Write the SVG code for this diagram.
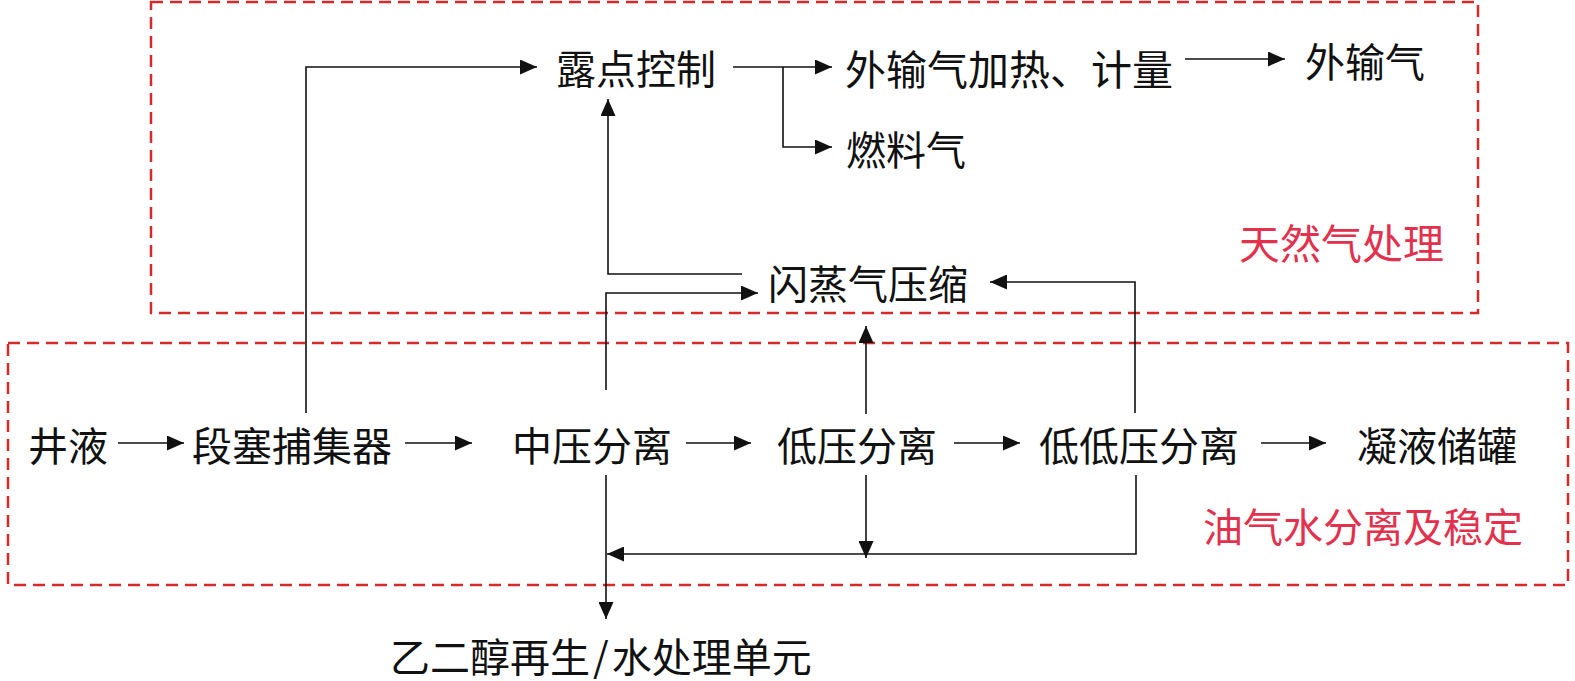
<svg xmlns="http://www.w3.org/2000/svg" width="1575" height="681" viewBox="0 0 1575 681">
<style>
  .t { font-family: "Noto Sans CJK SC", "Liberation Serif", sans-serif; font-size: 40px; fill: #111; dominant-baseline: central; }
  .r { fill: #e3314d; }
  .zone { fill: none; stroke: #d42a2a; stroke-width: 2.5; stroke-dasharray: 12 7; }
  .c { fill: none; stroke: #111; stroke-width: 1.6; marker-end: url(#ah); }
</style>
<defs>
  <marker id="ah" markerUnits="userSpaceOnUse" markerWidth="17" markerHeight="15" refX="17" refY="7.5" orient="auto">
    <path d="M0,0 L17,7.5 L0,15 z" fill="#111"/>
  </marker>
</defs>
<rect width="1575" height="681" fill="#fff"/>
<g id="zones">
  <rect class="zone" x="151" y="2" width="1327" height="311"/>
  <rect class="zone" x="8" y="343" width="1560" height="242"/>
</g>
<g id="connectors">
  <line class="c" x1="118" y1="443" x2="184" y2="443"/>
  <line class="c" x1="405" y1="443" x2="472" y2="443"/>
  <line class="c" x1="686" y1="443" x2="751" y2="443"/>
  <line class="c" x1="954" y1="443" x2="1020" y2="443"/>
  <line class="c" x1="1261" y1="443" x2="1326" y2="443"/>
  <polyline class="c" points="306,413 306,67 537,67"/>
  <line class="c" x1="733" y1="67" x2="832" y2="67"/>
  <polyline class="c" points="783,67 783,147 832,147"/>
  <line class="c" x1="1185" y1="59" x2="1285" y2="59"/>
  <polyline class="c" points="742,274 608,274 608,99"/>
  <polyline class="c" points="606,390 606,293 758,293"/>
  <line class="c" x1="866" y1="414" x2="866" y2="326"/>
  <polyline class="c" points="1135,413 1135,282 990,282"/>
  <line class="c" x1="606" y1="475" x2="606" y2="619"/>
  <line class="c" x1="866" y1="475" x2="866" y2="558"/>
  <polyline class="c" points="1136,475 1136,554 607,554"/>
</g>
<g id="n-ludian"><text class="t" x="556" y="67">露点控制</text></g>
<g id="n-jiare"><text class="t" x="845" y="67" style="font-size:41px">外输气加热、计量</text></g>
<g id="n-waishu"><text class="t" x="1305" y="60">外输气</text></g>
<g id="n-ranliao"><text class="t" x="846" y="148">燃料气</text></g>
<g id="n-tianranqi"><text class="t r" x="1239" y="241" style="font-size:41px">天然气处理</text></g>
<g id="n-shanzheng"><text class="t" x="768" y="282">闪蒸气压缩</text></g>
<g id="n-jingye"><text class="t" x="28" y="444">井液</text></g>
<g id="n-duansai"><text class="t" x="192" y="444">段塞捕集器</text></g>
<g id="n-zhongya"><text class="t" x="512" y="444">中压分离</text></g>
<g id="n-diya"><text class="t" x="777" y="444">低压分离</text></g>
<g id="n-didiya"><text class="t" x="1039" y="444">低低压分离</text></g>
<g id="n-ningye"><text class="t" x="1357" y="444">凝液储罐</text></g>
<g id="n-youqishui"><text class="t r" x="1203" y="525">油气水分离及稳定</text></g>
<g id="n-yierchun"><text class="t" x="390" y="655">乙二醇再生<tspan dx="3">/</tspan><tspan dx="3">水处理单元</tspan></text></g>
</svg>
